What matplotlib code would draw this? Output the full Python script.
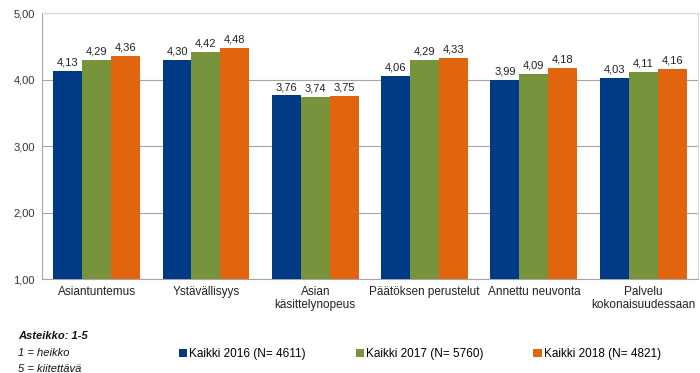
import numpy as np
import matplotlib
matplotlib.use("Agg")
import matplotlib.pyplot as plt

plt.rcParams["font.family"] = ["Liberation Sans", "DejaVu Sans"]

CATEGORIES = ["Asiantuntemus", "Ystävällisyys", "Asian\nkäsittelynopeus",
              "Päätöksen perustelut", "Annettu neuvonta", "Palvelu\nkokonaisuudessaan"]
SERIES = ["Kaikki 2016 (N= 4611)", "Kaikki 2017 (N= 5760)", "Kaikki 2018 (N= 4821)"]
VALUES_2016 = [4.13, 4.30, 3.76, 4.06, 3.99, 4.03]
VALUES_2017 = [4.29, 4.42, 3.74, 4.29, 4.09, 4.11]
VALUES_2018 = [4.36, 4.48, 3.75, 4.33, 4.18, 4.16]
YTICKS = [1, 2, 3, 4, 5]
COLORS = ["#003A87", "#77933C", "#E0650E"]

fig = plt.figure(figsize=(7.0, 3.73), dpi=100)
ax = fig.add_axes([0.06, 0.252, 0.937, 0.713])

x = np.arange(len(CATEGORIES))
w = 0.265
for i, (vals, col, lab) in enumerate(zip([VALUES_2016, VALUES_2017, VALUES_2018], COLORS, SERIES)):
    pos = x + (i - 1) * w
    ax.bar(pos, np.array(vals) - 1, w, bottom=1, color=col, label=lab, zorder=3)
    for p, v in zip(pos, vals):
        ax.text(p, v + 0.05, f"{v:.2f}".replace(".", ","), ha="center", va="bottom",
                fontsize=8, color="#222222")

ax.set_xlim(-0.5, len(CATEGORIES) - 0.5)
ax.set_ylim(1, 5)
ax.set_yticks(YTICKS)
ax.set_yticklabels([f"{t:.2f}".replace(".", ",") for t in YTICKS], fontsize=8, color="#333333")
ax.set_xticks(x)
ax.set_xticklabels(CATEGORIES, fontsize=8.5, color="#222222", linespacing=1.1)
ax.tick_params(axis="both", length=0, pad=5)
ax.grid(axis="y", color="#A6A6A6", linewidth=0.8, zorder=0)
for s in ["top", "right"]:
    ax.spines[s].set_color("#D9D9D9")
ax.spines["left"].set_color("#A6A6A6")
ax.spines["bottom"].set_color("#A6A6A6")

fig.text(0.026, 0.092, "Asteikko: 1-5", fontsize=8, fontweight="bold", style="italic", color="#111111")
fig.text(0.026, 0.045, "1 = heikko", fontsize=8, style="italic", color="#111111")
fig.text(0.026, 0.004, "5 = kiitettävä", fontsize=8, style="italic", color="#111111")

fig.legend(loc="center", bbox_to_anchor=(0.60, 0.05), ncol=3, frameon=False,
           fontsize=8.5, handlelength=0.7, handleheight=0.7, handletextpad=0.2,
           columnspacing=4.2)

fig.savefig("out.png", dpi=100)
